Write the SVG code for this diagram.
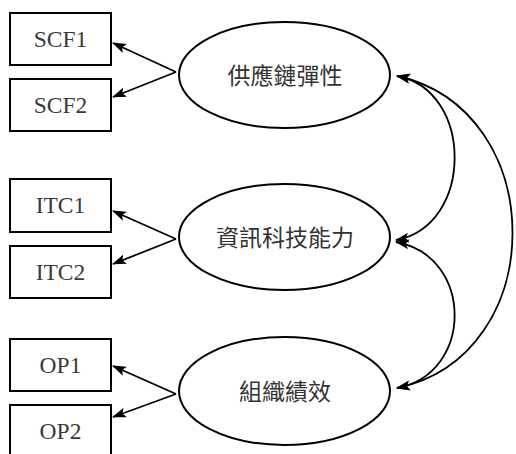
<svg xmlns="http://www.w3.org/2000/svg" width="516" height="454" viewBox="0 0 516 454">
<style>
.box{fill:#fff;stroke:#000;stroke-width:2}
.ell{fill:#fff;stroke:#000;stroke-width:2}
.lt{font-family:"Liberation Serif","Times New Roman",serif;font-size:23.5px;fill:#3a3a3a;text-anchor:middle}
.ct{font-family:"Noto Sans CJK TC","Noto Sans CJK SC",sans-serif;font-size:23px;fill:#333;text-anchor:middle}
.con{fill:none;stroke:#000;stroke-width:1.8}
</style>
<defs>
<marker id="ah" viewBox="0 0 14 10" refX="13" refY="5" markerWidth="14" markerHeight="10" markerUnits="userSpaceOnUse" orient="auto-start-reverse">
<path d="M0,0 L14,5 L0,10 L3,5 Z" fill="#000"/>
</marker>
</defs>
<g id="SCF1"><rect class="box" x="10" y="13" width="101" height="52"/><text class="lt" x="60.5" y="47">SCF1</text></g>
<g id="SCF2"><rect class="box" x="10" y="79" width="101" height="52"/><text class="lt" x="60.5" y="113">SCF2</text></g>
<g id="ITC1"><rect class="box" x="10" y="179" width="101" height="53"/><text class="lt" x="60.5" y="213">ITC1</text></g>
<g id="ITC2"><rect class="box" x="10" y="246" width="101" height="52"/><text class="lt" x="60.5" y="280">ITC2</text></g>
<g id="OP1"><rect class="box" x="10" y="339" width="101" height="52"/><text class="lt" x="60.5" y="373">OP1</text></g>
<g id="OP2"><rect class="box" x="10" y="405" width="101" height="60"/><text class="lt" x="60.5" y="439">OP2</text></g>
<g id="SCR"><ellipse class="ell" cx="284.5" cy="75" rx="105.5" ry="53"/><text class="ct" x="285" y="84">供應鏈彈性</text></g>
<g id="ITCap"><ellipse class="ell" cx="284.5" cy="237" rx="105.5" ry="53"/><text class="ct" x="285" y="246">資訊科技能力</text></g>
<g id="OPerf"><ellipse class="ell" cx="284.5" cy="391" rx="105.5" ry="54"/><text class="ct" x="285" y="400">組織績效</text></g>
<g id="connectors">
<path class="con" d="M176,72 L113,43" marker-end="url(#ah)"/>
<path class="con" d="M176,72 L113,97" marker-end="url(#ah)"/>
<path class="con" d="M176,239 L113,211" marker-end="url(#ah)"/>
<path class="con" d="M176,239 L113,264" marker-end="url(#ah)"/>
<path class="con" d="M176,394 L113,366" marker-end="url(#ah)"/>
<path class="con" d="M176,394 L113,417" marker-end="url(#ah)"/>
<path class="con" d="M397,76 C474,90 474,226 396,240" marker-start="url(#ah)" marker-end="url(#ah)"/>
<path class="con" d="M396,242 C474,256 474,374 397,388" marker-start="url(#ah)" marker-end="url(#ah)"/>
<path class="con" d="M397,76 C551,110 551,356 397,388" marker-start="url(#ah)" marker-end="url(#ah)"/>
</g>
</svg>
